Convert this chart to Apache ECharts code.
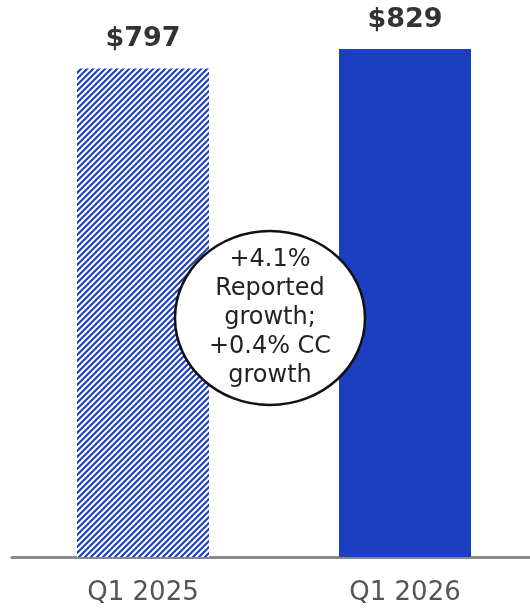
<!DOCTYPE html>
<html>
<head>
<meta charset="utf-8">
<script src="https://cdn.jsdelivr.net/npm/echarts@6/dist/echarts.min.js"></script>
<style>
  html, body { margin: 0; padding: 0; background: #fff; }
  #main { width: 530px; height: 613px; }
</style>
</head>
<body>
<div id="main"></div>
<script>
const categories = ['Q1 2025', 'Q1 2026']
const revenue = [797, 829]
const valueLabels = ['$797', '$829']
const bubbleLines = ['+4.1%', 'Reported', 'growth;', '+0.4% CC', 'growth']

const blue = '#1b3fc0'

// diagonal hatch for the prior-year bar
function makeHatch() {
    let c = document.createElement('canvas')
    c.width = 6
    c.height = 6
    let ctx = c.getContext('2d')
    ctx.fillStyle = '#fff'
    ctx.fillRect(0, 0, 6, 6)
    ctx.strokeStyle = blue
    ctx.lineWidth = 2.1
    ctx.beginPath()
    ctx.moveTo(-1, 7); ctx.lineTo(7, -1)
    ctx.moveTo(-1, 1); ctx.lineTo(1, -1)
    ctx.moveTo(5, 7); ctx.lineTo(7, 5)
    ctx.stroke()
    return c
}

const myChart = echarts.init(document.getElementById('main'))

myChart.setOption({
    animation: false,
    grid: { left: 12, right: -6, top: 49, bottom: 56, outerBoundsMode: 'none', containLabel: false },
    xAxis: {
        type: 'category',
        data: categories,
        axisTick: { show: false },
        axisLine: { lineStyle: { color: '#8a8a8a', width: 3 } },
        axisLabel: {
            color: '#555',
            fontSize: 26,
            fontFamily: 'DejaVu Sans',
            margin: 23
        }
    },
    yAxis: {
        type: 'value',
        min: 0,
        max: 829,
        show: false,
        splitLine: { show: false }
    },
    series: [{
        type: 'bar',
        barWidth: 132,
        data: revenue.map(function (v, i) {
            return {
                value: v,
                itemStyle: {
                    color: i === 0 ? { image: makeHatch(), repeat: 'repeat' } : blue
                }
            }
        }),
        label: {
            show: true,
            position: 'top',
            distance: 16,
            color: '#333',
            fontSize: 27,
            fontWeight: 'bold',
            fontFamily: 'DejaVu Sans',
            formatter: function (p) { return valueLabels[p.dataIndex] }
        }
    }],
    graphic: [{
        type: 'ellipse',
        shape: { cx: 270, cy: 318, rx: 95, ry: 87 },
        style: { fill: '#fff', stroke: '#111', lineWidth: 2.5 },
        z: 10
    }, {
        type: 'text',
        x: 270,
        y: 318,
        style: {
            text: bubbleLines.join('\n'),
            fill: '#222',
            font: '24px "DejaVu Sans"',
            lineHeight: 29,
            align: 'center',
            verticalAlign: 'middle'
        },
        z: 11
    }]
})
</script>
</body>
</html>
